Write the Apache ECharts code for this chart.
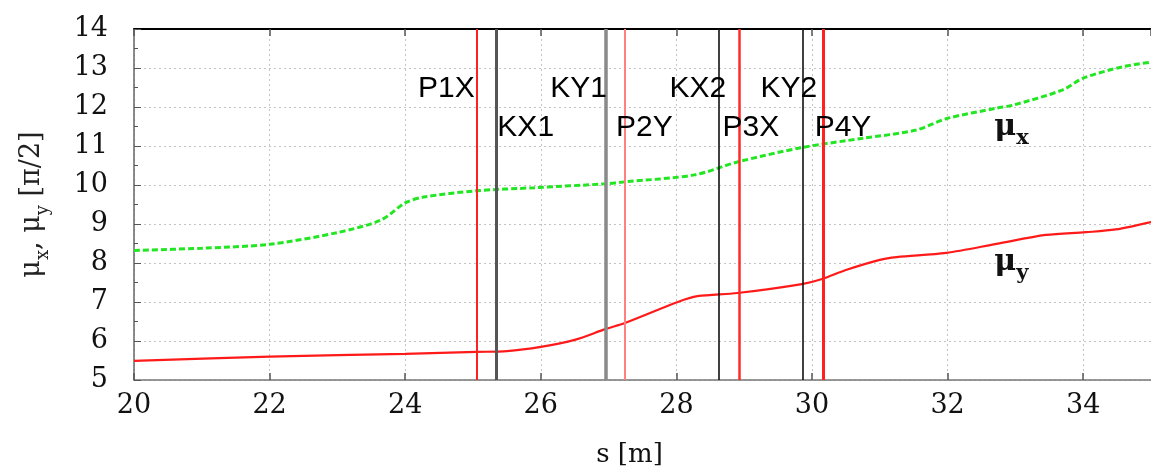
<!DOCTYPE html>
<html>
<head>
<meta charset="utf-8">
<script src="https://cdn.jsdelivr.net/npm/echarts@6/dist/echarts.min.js"></script>
<style>
html,body{margin:0;padding:0;background:#fff;}
#chart{width:1151px;height:474px;}
</style>
</head>
<body>
<div id="chart"></div>
<script>
// ---- data ----
const sMuX = [20, 21, 22, 23, 23.64, 24.0, 24.27, 25.04, 25.9, 26.95, 27.24, 28.27, 28.9, 29.88, 30.76, 31.54, 31.98, 32.72, 32.97, 33.7, 34.0, 34.58, 35];
const muX  = [8.32, 8.38, 8.48, 8.78, 9.10, 9.54, 9.69, 9.85, 9.93, 10.03, 10.08, 10.26, 10.59, 10.97, 11.2, 11.41, 11.70, 11.97, 12.05, 12.44, 12.74, 13.03, 13.15];
const sMuY = [20, 22, 24, 25.05, 25.5, 26.0, 26.5, 26.96, 27.24, 28.02, 28.31, 28.9, 29.85, 30.15, 30.5, 31.0, 31.25, 31.98, 32.72, 33.45, 34.04, 34.48, 35];
const muY  = [5.49, 5.60, 5.67, 5.72, 5.74, 5.85, 6.03, 6.31, 6.46, 7.0, 7.15, 7.23, 7.46, 7.59, 7.82, 8.08, 8.15, 8.26, 8.49, 8.72, 8.79, 8.86, 9.05];

const markerNames = ['P1X', 'KX1', 'KY1', 'P2Y', 'KX2', 'P3X', 'KY2', 'P4Y'];
const markerS     = [25.05, 25.34, 26.96, 27.24, 28.62, 28.92, 29.86, 30.16];
// label anchors (left edge s, mu value)
const labelS  = [24.19, 25.36, 26.14, 27.11, 27.90, 28.68, 29.24, 30.04];
const labelMu = [12.46, 11.47, 12.46, 11.47, 12.46, 11.47, 12.46, 11.47];

const curveLabelS  = [32.69, 32.69];
const curveLabelMu = [11.45, 8.0];

const xTicks = [20, 22, 24, 26, 28, 30, 32, 34];

// ---- styles ----
const markerStyle = {
  P1X: {color: '#ff2020', width: 2},
  KX1: {color: '#555555', width: 3},
  KY1: {color: '#8a8a8a', width: 3.5},
  P2Y: {color: '#ff8080', width: 2},
  KX2: {color: '#111111', width: 1.6},
  P3X: {color: '#ff2a2a', width: 2.5},
  KY2: {color: '#111111', width: 1.6},
  P4Y: {color: '#ff2020', width: 3}
};

const chart = echarts.init(document.getElementById('chart'), null, {renderer: 'canvas'});

const gridLine = {show: true, lineStyle: {color: '#c4c4c4', type: [2, 3], width: 1}};

const option = {
  backgroundColor: '#ffffff',
  animation: false,
  grid: {left: 134, top: 29, width: 1022, height: 351, containLabel: false},
  xAxis: [{
    type: 'value', min: 20, max: 35, interval: 2,
    axisLine: {show: true, lineStyle: {color: '#777', width: 1.5}},
    axisTick: {show: true, inside: true, length: 7, lineStyle: {color: '#555', width: 1.5}},
    axisLabel: {
      color: '#111', fontFamily: 'DejaVu Serif', fontSize: 27, margin: 12,
      showMaxLabel: false,
      formatter: v => (xTicks.indexOf(v) >= 0 ? String(v) : '')
    },
    splitLine: gridLine,
    name: 's [m]', nameLocation: 'middle', nameGap: 62,
    nameTextStyle: {color: '#111', fontFamily: 'DejaVu Serif', fontSize: 26, padding: [0, 26, 0, 0]}
  }, {
    type: 'value', min: 20, max: 35, interval: 2, position: 'top',
    axisLine: {show: true, lineStyle: {color: '#000', width: 2}},
    axisTick: {show: true, inside: true, length: 7, lineStyle: {color: '#555', width: 1.5}},
    axisLabel: {show: false},
    splitLine: {show: false}
  }],
  yAxis: {
    type: 'value', min: 5, max: 14, interval: 1,
    axisLine: {show: true, lineStyle: {color: '#666', width: 1.5}},
    axisTick: {show: true, inside: true, length: 7, lineStyle: {color: '#555', width: 1}},
    minorTick: {show: true, splitNumber: 2, length: 4, lineStyle: {color: '#555', width: 1}},
    axisLabel: {color: '#111', fontFamily: 'DejaVu Serif', fontSize: 27, margin: 26},
    splitLine: gridLine,
    name: '{m|μ}{s|x}{m|, μ}{s|y}{m| [π/2]}',
    nameLocation: 'middle', nameGap: 86,
    nameTextStyle: {
      color: '#222', fontFamily: 'DejaVu Serif', fontSize: 27,
      rich: {
        m: {fontFamily: 'DejaVu Serif', fontSize: 27, color: '#222', lineHeight: 30, verticalAlign: 'top'},
        s: {fontFamily: 'DejaVu Serif', fontSize: 18, color: '#222', lineHeight: 20, padding: [16, 0, 0, 0], verticalAlign: 'top'}
      }
    }
  },
  series: [
    {
      name: 'mux', type: 'line', showSymbol: false, symbol: 'none', smooth: 0.3,
      data: sMuX.map((s, i) => [s, muX[i]]),
      lineStyle: {color: '#22e622', width: 3, type: [6, 3]},
      z: 3
    },
    {
      name: 'muy', type: 'line', showSymbol: false, symbol: 'none', smooth: 0.3,
      data: sMuY.map((s, i) => [s, muY[i]]),
      lineStyle: {color: '#ff1a1a', width: 2.2},
      z: 3,
      markLine: {
        silent: true, symbol: ['none', 'none'], animation: false,
        label: {show: false},
        data: markerNames.map((n, i) => ({
          xAxis: markerS[i],
          lineStyle: {color: markerStyle[n].color, width: markerStyle[n].width, type: 'solid'}
        }))
      }
    },
    {
      name: 'markerLabels', type: 'scatter', symbolSize: 0.1, silent: true,
      itemStyle: {opacity: 1, color: 'rgba(0,0,0,0)'},
      data: markerNames.map((n, i) => ({value: [labelS[i], labelMu[i]], name: n})),
      label: {
        show: true, position: [0, 0], align: 'left', verticalAlign: 'middle',
        formatter: p => p.name, opacity: 1,
        color: '#000', fontFamily: 'Liberation Sans', fontSize: 30
      },
      z: 5
    },
    {
      name: 'curveLabels', type: 'scatter', symbolSize: 0.1, silent: true,
      itemStyle: {opacity: 1, color: 'rgba(0,0,0,0)'},
      data: [
        {value: [curveLabelS[0], curveLabelMu[0]], name: 'x'},
        {value: [curveLabelS[1], curveLabelMu[1]], name: 'y'}
      ],
      label: {
        show: true, position: [0, 0], align: 'left', verticalAlign: 'middle', opacity: 1,
        formatter: p => '{m|μ}{s|' + p.name + '}',
        rich: {
          m: {fontFamily: 'DejaVu Serif', fontSize: 30, color: '#111', fontWeight: 'bold', lineHeight: 32, verticalAlign: 'top'},
          s: {fontFamily: 'DejaVu Serif', fontSize: 21, color: '#111', fontWeight: 'bold', lineHeight: 22, padding: [16, 0, 0, 0], verticalAlign: 'top'}
        }
      },
      z: 5
    }
  ]
};
chart.setOption(option);
</script>
</body>
</html>
